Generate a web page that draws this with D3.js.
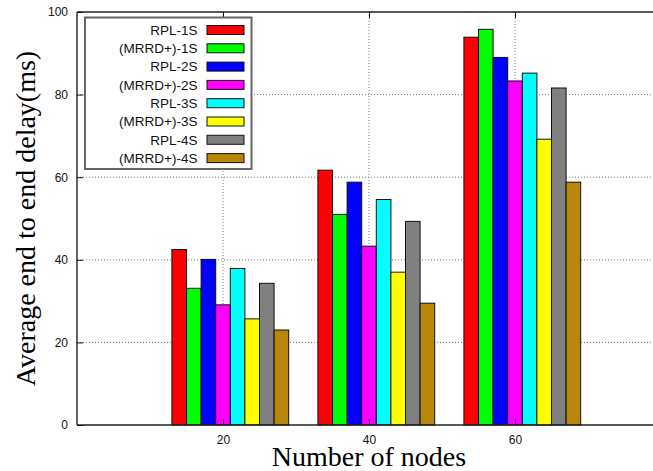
<!DOCTYPE html>
<html><head><meta charset="utf-8">
<script src="https://cdn.jsdelivr.net/npm/d3@7"></script>
<style>body{margin:0;background:#fff}svg{display:block}</style>
</head><body><svg id="c" width="653" height="471"></svg>
<script>
const categories = [20, 40, 60];
const seriesNames = ["RPL-1S","(MRRD+)-1S","RPL-2S","(MRRD+)-2S","RPL-3S","(MRRD+)-3S","RPL-4S","(MRRD+)-4S"];
const seriesColors = ["#ff0000","#00ff00","#0000ff","#ff00ff","#00ffff","#ffff00","#808080","#b8860b"];
const rpl1S   = [42.5, 61.7, 93.9];
const mrrd1S  = [33.1, 51.0, 95.8];
const rpl2S   = [40.1, 58.8, 89.0];
const mrrd2S  = [29.1, 43.3, 83.3];
const rpl3S   = [37.9, 54.6, 85.2];
const mrrd3S  = [25.7, 37.0, 69.2];
const rpl4S   = [34.3, 49.3, 81.6];
const mrrd4S  = [23.0, 29.5, 58.8];
const seriesValues = [rpl1S, mrrd1S, rpl2S, mrrd2S, rpl3S, mrrd3S, rpl4S, mrrd4S];
const yTicks = [0, 20, 40, 60, 80, 100];

const svg = d3.select("#c");
const L = 77, T = 12, B = 425;
const x = d3.scaleLinear().domain([0, 80]).range([L, L + 4 * 146]);
const y = d3.scaleLinear().domain([0, 100]).range([B, T]);

// grid
const g = svg.append("g");
g.selectAll(".gy").data(yTicks.slice(1, -1)).join("line")
  .attr("x1", L).attr("x2", 653).attr("y1", d => y(d)).attr("y2", d => y(d))
  .attr("stroke", "#555").attr("stroke-width", 0.8).attr("stroke-dasharray", "1,2");
g.selectAll(".gx").data(categories).join("line")
  .attr("x1", d => x(d)).attr("x2", d => x(d)).attr("y1", T).attr("y2", B)
  .attr("stroke", "#555").attr("stroke-width", 0.8).attr("stroke-dasharray", "1,2");

// bars
const barW = 2;
seriesValues.forEach((vals, si) => {
  svg.append("g").selectAll("rect").data(vals).join("rect")
    .attr("x", (d, i) => x(categories[i] - 7 + barW * si))
    .attr("width", x(barW) - x(0))
    .attr("y", d => y(d))
    .attr("height", d => y(0) - y(d))
    .attr("fill", seriesColors[si])
    .attr("stroke", "#111").attr("stroke-width", 1);
});

// axes frame
svg.append("line").attr("x1", L).attr("x2", L).attr("y1", T).attr("y2", B).attr("stroke", "#111").attr("stroke-width", 1.3);
svg.append("line").attr("x1", L).attr("x2", 653).attr("y1", B).attr("y2", B).attr("stroke", "#222").attr("stroke-width", 1.5);
svg.append("line").attr("x1", L).attr("x2", 653).attr("y1", T).attr("y2", T).attr("stroke", "#222").attr("stroke-width", 1.5);

const yAxis = d3.axisLeft(y).tickValues(yTicks).tickSize(-6).tickPadding(9);
const ya = svg.append("g").attr("transform", `translate(${L},0)`).call(yAxis);
ya.select(".domain").remove();
ya.selectAll("text").attr("font-family", "Liberation Sans, Arial, sans-serif").attr("font-size", 12).attr("fill", "#111");
ya.selectAll("line").attr("stroke", "#111");

const xAxis = d3.axisBottom(x).tickValues(categories).tickSize(-6).tickPadding(10);
const xa = svg.append("g").attr("transform", `translate(0,${B})`).call(xAxis);
xa.select(".domain").remove();
xa.selectAll("text").attr("font-family", "Liberation Sans, Arial, sans-serif").attr("font-size", 12).attr("fill", "#111");
xa.selectAll("line").attr("stroke", "#111");
const xt = svg.append("g").attr("transform", `translate(0,${T})`).call(d3.axisTop(x).tickValues(categories).tickSize(-6).tickFormat(""));
xt.select(".domain").remove();
xt.selectAll("line").attr("stroke", "#111");

// axis titles
svg.append("text").attr("x", 369).attr("y", 466).attr("text-anchor", "middle")
  .attr("font-family", "Liberation Serif, Times New Roman, serif").attr("font-size", 28).attr("fill", "#000")
  .text("Number of nodes");
svg.append("text").attr("transform", "translate(35,218.5) rotate(-90)").attr("text-anchor", "middle")
  .attr("font-family", "Liberation Serif, Times New Roman, serif").attr("font-size", 28).attr("fill", "#000")
  .text("Average end to end delay(ms)");

// legend
const lg = svg.append("g");
lg.append("rect").attr("x", 85).attr("y", 17.5).attr("width", 166.5).attr("height", 151.5)
  .attr("fill", "#fff").attr("stroke", "#666").attr("stroke-width", 2);
seriesNames.forEach((name, i) => {
  const cy = 30 + i * 18.3;
  lg.append("text").attr("x", 197.5).attr("y", cy).attr("dy", "0.35em").attr("text-anchor", "end")
    .attr("font-family", "Liberation Sans, Arial, sans-serif").attr("font-size", 13.5).attr("fill", "#111").text(name);
  lg.append("rect").attr("x", 207).attr("y", cy - 4.5).attr("width", 37).attr("height", 9)
    .attr("fill", seriesColors[i]).attr("stroke", "#111").attr("stroke-width", 1);
});
</script>
</body></html>
